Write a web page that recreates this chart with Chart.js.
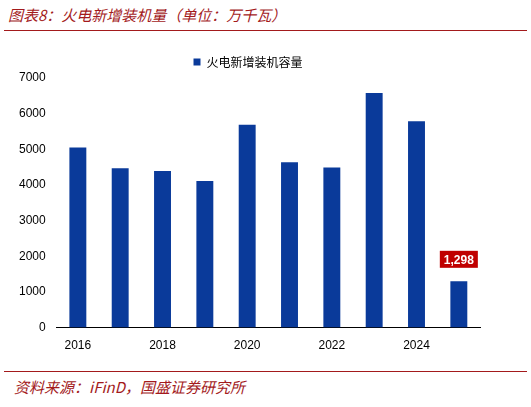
<!DOCTYPE html>
<html>
<head>
<meta charset="utf-8">
<script src="https://cdn.jsdelivr.net/npm/chart.js@4"></script>
<style>
body { margin: 0; background: #fff; font-family: "Noto Sans CJK SC", sans-serif; }
#wrap { position: relative; width: 531px; height: 407px; }
#title { position: absolute; left: 8px; top: 4px; font-size: 15px; font-style: italic; color: #a31a1c; }
#top { position: absolute; left: 4px; right: 4px; top: 30px; border-top: 1.5px solid #a31a1c; }
#bottom { position: absolute; left: 4px; right: 4px; top: 371px; border-top: 1.5px solid #a31a1c; }
#src { position: absolute; left: 14px; top: 376px; font-size: 15px; font-style: italic; color: #a31a1c; }
#box { position: absolute; left: 10px; top: 46px; width: 510px; height: 310px; }
</style>
</head>
<body>
<div id="wrap">
  <div id="title">图表8：火电新增装机量（单位：万千瓦）</div>
  <div id="top"></div>
  <div id="box"><canvas id="grafico"></canvas></div>
  <div id="bottom"></div>
  <div id="src">资料来源：iFinD，国盛证券研究所</div>
</div>
<script>
const years = ['2016', '2017', '2018', '2019', '2020', '2021', '2022', '2023', '2024', '2025'];
const capacity = [5050, 4470, 4390, 4110, 5690, 4640, 4490, 6580, 5790, 1298];
const seriesName = '火电新增装机容量';

// red tag over the last bar
const lastLabel = {
    id: 'lastLabel',
    afterDatasetsDraw(chart) {
        const ctx = chart.ctx;
        const bar = chart.getDatasetMeta(0).data[capacity.length - 1];
        const text = capacity[capacity.length - 1].toLocaleString('en-US');
        ctx.save();
        ctx.font = 'bold 12px "Liberation Sans", Arial';
        const w = ctx.measureText(text).width + 8;
        const h = 17;
        const y = bar.y - 22;
        ctx.fillStyle = '#c00000';
        ctx.fillRect(bar.x - w / 2, y - h / 2, w, h);
        ctx.fillStyle = '#fff';
        ctx.textAlign = 'center';
        ctx.textBaseline = 'middle';
        ctx.fillText(text, bar.x, y + 1);
        ctx.restore();
    }
};

new Chart(document.querySelector('#grafico'), {
    type: 'bar',
    data: {
        labels: years,
        datasets: [{
            label: seriesName,
            data: capacity,
            backgroundColor: '#0a3a9a',
            barPercentage: 0.4,
            categoryPercentage: 1
        }]
    },
    options: {
        responsive: true,
        maintainAspectRatio: false,
        animation: false,
        layout: { padding: { right: 40, left: 6, top: 0 } },
        plugins: {
            legend: {
                labels: { boxWidth: 7, boxHeight: 7, color: '#000', font: { size: 12, family: '"Noto Sans CJK SC"' } }
            },
            tooltip: { enabled: false }
        },
        scales: {
            x: {
                grid: { display: false },
                border: { color: '#000' },
                ticks: {
                    color: '#000', font: { size: 12 }, maxRotation: 0, autoSkip: false,
                    callback: (v, i) => i % 2 === 0 ? years[i] : ''
                }
            },
            y: {
                min: 0, max: 7000,
                ticks: { stepSize: 1000, color: '#000', font: { size: 12 }, callback: v => String(v) },
                grid: { display: false },
                border: { display: false }
            }
        }
    },
    plugins: [lastLabel]
});
</script>
</body>
</html>
